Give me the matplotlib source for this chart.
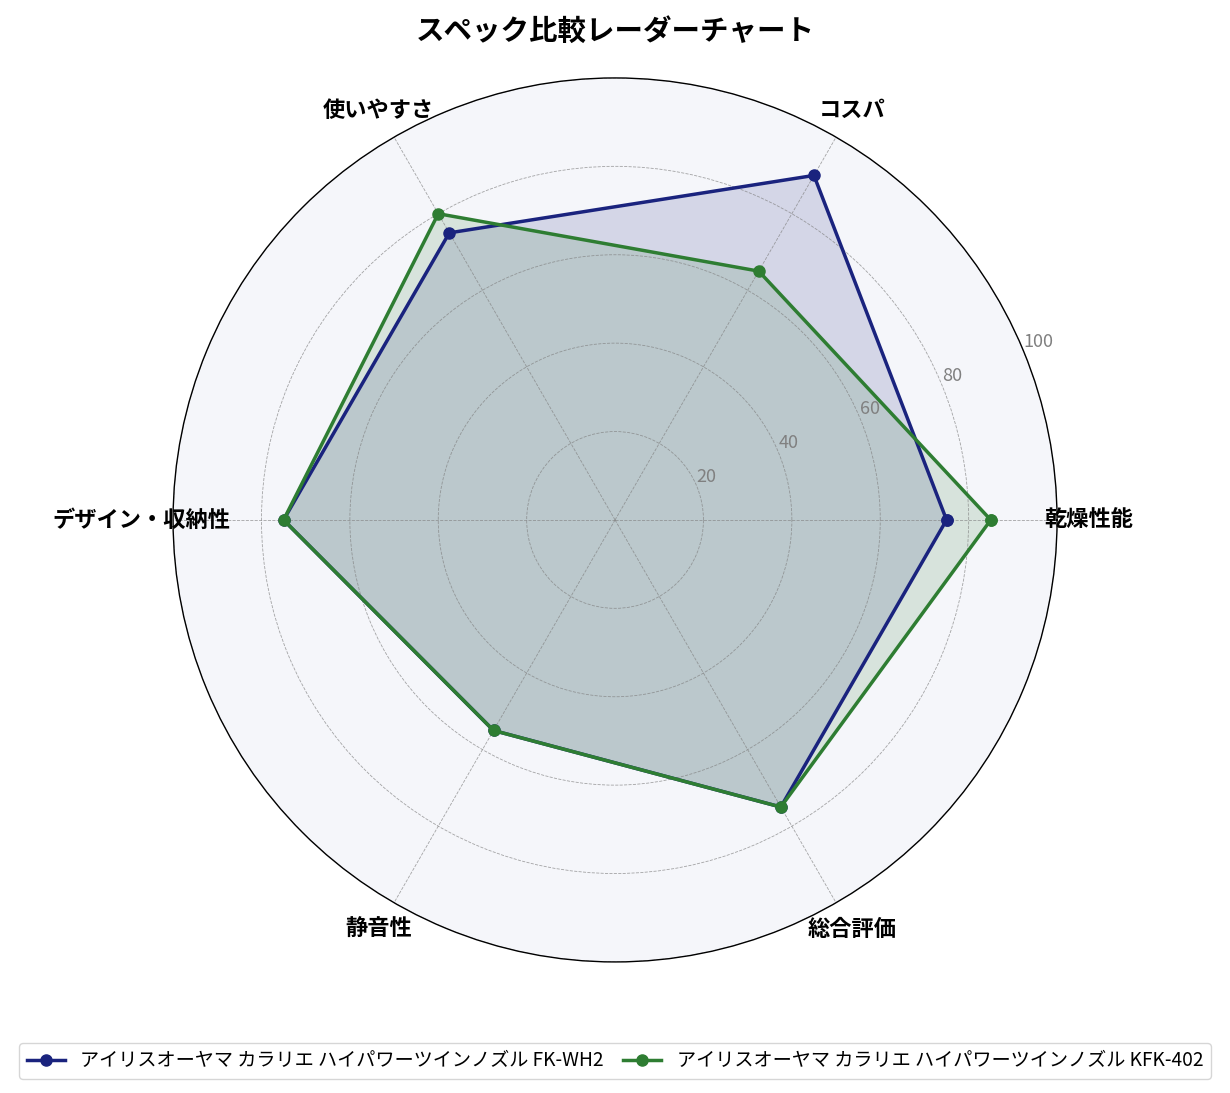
import numpy as np
import matplotlib
matplotlib.use("Agg")
import matplotlib.pyplot as plt

plt.rcParams['font.family'] = ['Noto Sans CJK JP', 'DejaVu Sans']

categories = ["乾燥性能", "コスパ", "使いやすさ", "デザイン・収納性", "静音性", "総合評価"]
series_names = [
    "アイリスオーヤマ カラリエ ハイパワーツインノズル FK-WH2",
    "アイリスオーヤマ カラリエ ハイパワーツインノズル KFK-402",
]
fk_wh2 = [75, 90, 75, 75, 55, 75]
kfk_402 = [85, 65, 80, 75, 55, 75]
r_ticks = [20, 40, 60, 80, 100]

colors = ["#1a237e", "#2e7d32"]

n = len(categories)
angles = np.linspace(0, 2 * np.pi, n, endpoint=False).tolist()
angles_closed = angles + angles[:1]

fig = plt.figure(figsize=(12.3, 10.93), dpi=100)
ax = fig.add_axes([0.1407, 0.1199, 0.7187, 0.8088], polar=True)
ax.set_facecolor("#f5f6fa")

for vals, name, col in zip([fk_wh2, kfk_402], series_names, colors):
    v = vals + vals[:1]
    ax.plot(angles_closed, v, color=col, linewidth=2.5, marker="o",
            markersize=8, label=name)
    ax.fill(angles_closed, v, color=col, alpha=0.15)

ax.set_ylim(0, 100)
ax.set_xticks(angles)
ax.set_xticklabels(categories, fontsize=16, fontweight="bold")
ax.tick_params(axis="x", pad=12)
ax.set_yticks(r_ticks)
ax.set_yticklabels([str(t) for t in r_ticks], fontsize=13, color="gray")
ax.set_rlabel_position(22.5)
ax.grid(color="gray", linestyle="--", linewidth=0.6, alpha=0.7)
ax.spines["polar"].set_color("black")
ax.spines["polar"].set_linewidth(1.0)

fig.suptitle("スペック比較レーダーチャート", fontsize=20.5, fontweight="bold", y=0.984)

fig.legend(loc="lower center", ncol=2, fontsize=13.8, bbox_to_anchor=(0.5, 0.004),
           frameon=True, edgecolor="#cccccc", handlelength=2, columnspacing=1.0)

fig.savefig("out.png", dpi=100)
